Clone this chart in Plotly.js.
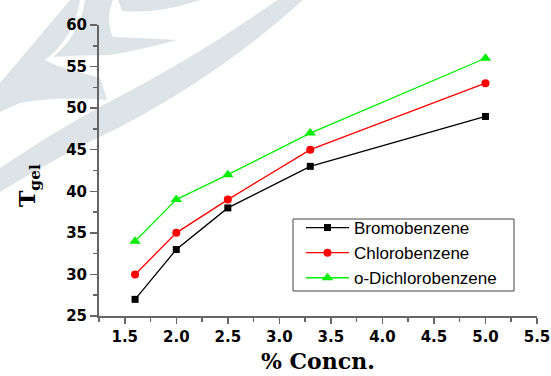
<!DOCTYPE html>
<html>
<head>
<meta charset="utf-8">
<script src="https://cdn.plot.ly/plotly-3.0.1.min.js"></script>
<style>
html,body{margin:0;padding:0;background:#fff;}
#chart{width:551px;height:376px;}
</style>
</head>
<body>
<div id="chart"></div>
<script>
// Data
const concentration = [1.6, 2.0, 2.5, 3.3, 5.0];
const bromobenzene = [27, 33, 38, 43, 49];
const chlorobenzene = [30, 35, 39, 45, 53];
const dichlorobenzene = [34, 39, 42, 47, 56];
const seriesNames = ['Bromobenzene', 'Chlorobenzene', 'o-Dichlorobenzene'];
const xTickVals = [1.5, 2.0, 2.5, 3.0, 3.5, 4.0, 4.5, 5.0, 5.5];
const xTickText = ['1.5', '2.0', '2.5', '3.0', '3.5', '4.0', '4.5', '5.0', '5.5'];
const yTickVals = [25, 30, 35, 40, 45, 50, 55, 60];
const yTickText = ['25', '30', '35', '40', '45', '50', '55', '60'];

// layout geometry (pixels)
const W = 551, H = 376;
const L = 99, R = 14, T = 25, B = 60;
const PW = W - L - R, PH = H - T - B;
const pxX = p => (p - L) / PW;
const pxY = p => (H - B - p) / PH;

// convert a pixel-space path into a paper-space path (faint background watermark)
function px2paper(path) {
  return path.replace(/(-?\d+(?:\.\d+)?),(-?\d+(?:\.\d+)?)/g, function (m, a, b) {
    return pxX(parseFloat(a)).toFixed(4) + ',' + pxY(parseFloat(b)).toFixed(4);
  });
}
const wmColor = '#dde3e7';
const wmPaths = [
  'M 0,168 Q 60,128 107,103 Q 200,55 277,0 L 303,0 Q 220,75 120,127 Q 60,155 0,192 Z',
  'M 0,83 L 70,0 L 80,0 Q 74,38 45,60 L 58,66 Q 80,72 100,78 Q 104,90 107,100 Q 60,96 20,103 L 0,112 Z',
  'M 85,0 Q 80,35 53,57 Q 80,55 110,55 Q 140,50 177,40 Q 140,38 113,37 Q 105,20 113,0 Z',
  'M 118,0 L 200,0 Q 160,14 122,11 Z'
];
const shapes = wmPaths.map(p => ({
  type: 'path', xref: 'paper', yref: 'paper', path: px2paper(p),
  fillcolor: wmColor, line: {width: 0}, layer: 'below'
}));
// legend frame
shapes.push({
  type: 'rect', xref: 'paper', yref: 'paper',
  x0: pxX(293), x1: pxX(514), y0: pxY(291), y1: pxY(219),
  fillcolor: '#ffffff', line: {color: '#444444', width: 1}, layer: 'below'
});

const colors = ['#000000', '#ff0000', '#00ee00'];
const symbols = ['square', 'circle', 'triangle-up'];
const sizes = [7, 8, 10];
const ys = [bromobenzene, chlorobenzene, dichlorobenzene];

const traces = ys.map((y, i) => ({
  x: concentration, y: y, name: seriesNames[i],
  type: 'scatter', mode: 'lines+markers',
  line: {color: colors[i], width: 1.3},
  marker: {color: colors[i], symbol: symbols[i], size: sizes[i]},
  cliponaxis: false
}));

const tickFont = () => ({family: 'DejaVu Sans', size: 15, color: '#000000', weight: 'bold'});
const bold = arr => arr.map(t => '<b>' + t + '</b>');

const layout = {
  width: W, height: H,
  margin: {l: L, r: R, t: T, b: B},
  paper_bgcolor: 'rgba(0,0,0,0)',
  plot_bgcolor: 'rgba(0,0,0,0)',
  showlegend: true,
  legend: {
    x: pxX(301), y: pxY(210), xanchor: 'left', yanchor: 'top',
    bgcolor: 'rgba(0,0,0,0)', borderwidth: 0,
    font: {family: 'Liberation Sans, Arial', size: 17, color: '#000'},
    itemwidth: 43, tracegroupgap: 0
  },
  xaxis: {
    range: [1.25, 5.5], showgrid: false, zeroline: false,
    showline: true, linecolor: '#666666', linewidth: 2,
    tickmode: 'array', tickvals: xTickVals, ticktext: bold(xTickText),
    ticks: 'outside', ticklen: 6, tickwidth: 1.5, tickcolor: '#666666',
    ticklabeloverflow: 'allow',
    minor: {dtick: 0.25, tick0: 1.25, ticks: 'outside', ticklen: 4, tickwidth: 1.5, tickcolor: '#666666', showgrid: false},
    tickfont: tickFont()
  },
  yaxis: {
    range: [25, 60], showgrid: false, zeroline: false,
    showline: true, linecolor: '#666666', linewidth: 2,
    tickmode: 'array', tickvals: yTickVals, ticktext: bold(yTickText),
    ticks: 'outside', ticklen: 7, tickwidth: 1.5, tickcolor: '#666666',
    ticklabeloverflow: 'allow',
    minor: {dtick: 2.5, tick0: 25, ticks: 'outside', ticklen: 4, tickwidth: 1.5, tickcolor: '#666666', showgrid: false},
    tickfont: tickFont()
  },
  annotations: [{
    xref: 'paper', yref: 'paper', showarrow: false,
    x: pxX(29), y: pxY(186), xanchor: 'center', yanchor: 'middle',
    textangle: -90,
    text: '<b>T<sub>gel</sub></b>',
    font: {family: 'DejaVu Serif', size: 22, color: '#000'}
  }, {
    xref: 'paper', yref: 'paper', showarrow: false,
    x: 0.5, y: pxY(361), xanchor: 'center', yanchor: 'middle',
    text: '<b>% Concn.</b>',
    font: {family: 'DejaVu Serif', size: 22, color: '#000'}
  }],
  shapes: shapes
};

Plotly.newPlot('chart', traces, layout, {displayModeBar: false, staticPlot: true});
</script>
</body>
</html>
